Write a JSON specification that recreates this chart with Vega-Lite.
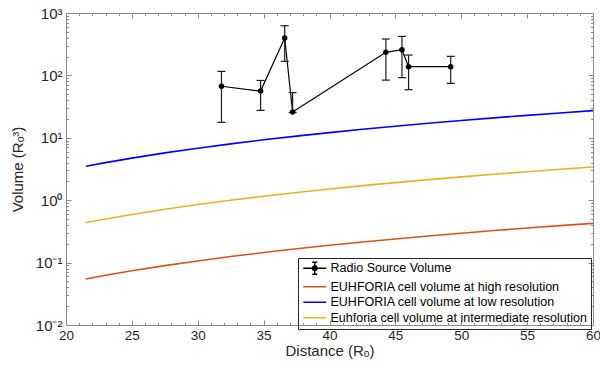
{
  "$schema": "https://vega.github.io/schema/vega-lite/v6.json",
  "autosize": "none",
  "width": 527,
  "height": 312,
  "padding": {"left": 66, "top": 13, "right": 7, "bottom": 44},
  "background": "white",
  "config": {"view": {"stroke": "#8a8a8a", "strokeWidth": 1}},
  "datasets": {
    "curves": [
      {"d": 21.5, "v": 3.5, "series": "EUHFORIA cell volume at low resolution"},
      {"d": 23, "v": 4.006, "series": "EUHFORIA cell volume at low resolution"},
      {"d": 25, "v": 4.73, "series": "EUHFORIA cell volume at low resolution"},
      {"d": 27.5, "v": 5.726, "series": "EUHFORIA cell volume at low resolution"},
      {"d": 30, "v": 6.81, "series": "EUHFORIA cell volume at low resolution"},
      {"d": 32.5, "v": 7.998, "series": "EUHFORIA cell volume at low resolution"},
      {"d": 35, "v": 9.28, "series": "EUHFORIA cell volume at low resolution"},
      {"d": 37.5, "v": 10.648, "series": "EUHFORIA cell volume at low resolution"},
      {"d": 40, "v": 12.11, "series": "EUHFORIA cell volume at low resolution"},
      {"d": 42.5, "v": 13.677, "series": "EUHFORIA cell volume at low resolution"},
      {"d": 45, "v": 15.33, "series": "EUHFORIA cell volume at low resolution"},
      {"d": 47.5, "v": 17.085, "series": "EUHFORIA cell volume at low resolution"},
      {"d": 50, "v": 18.93, "series": "EUHFORIA cell volume at low resolution"},
      {"d": 52.5, "v": 20.87, "series": "EUHFORIA cell volume at low resolution"},
      {"d": 55, "v": 22.9, "series": "EUHFORIA cell volume at low resolution"},
      {"d": 57.5, "v": 25.035, "series": "EUHFORIA cell volume at low resolution"},
      {"d": 60, "v": 27.26, "series": "EUHFORIA cell volume at low resolution"},
      {"d": 21.5, "v": 0.4375, "series": "Euhforia cell volume at intermediate resolution"},
      {"d": 23, "v": 0.5007, "series": "Euhforia cell volume at intermediate resolution"},
      {"d": 25, "v": 0.591, "series": "Euhforia cell volume at intermediate resolution"},
      {"d": 27.5, "v": 0.7158, "series": "Euhforia cell volume at intermediate resolution"},
      {"d": 30, "v": 0.851, "series": "Euhforia cell volume at intermediate resolution"},
      {"d": 32.5, "v": 0.9998, "series": "Euhforia cell volume at intermediate resolution"},
      {"d": 35, "v": 1.16, "series": "Euhforia cell volume at intermediate resolution"},
      {"d": 37.5, "v": 1.331, "series": "Euhforia cell volume at intermediate resolution"},
      {"d": 40, "v": 1.514, "series": "Euhforia cell volume at intermediate resolution"},
      {"d": 42.5, "v": 1.7096, "series": "Euhforia cell volume at intermediate resolution"},
      {"d": 45, "v": 1.916, "series": "Euhforia cell volume at intermediate resolution"},
      {"d": 47.5, "v": 2.1356, "series": "Euhforia cell volume at intermediate resolution"},
      {"d": 50, "v": 2.366, "series": "Euhforia cell volume at intermediate resolution"},
      {"d": 52.5, "v": 2.609, "series": "Euhforia cell volume at intermediate resolution"},
      {"d": 55, "v": 2.863, "series": "Euhforia cell volume at intermediate resolution"},
      {"d": 57.5, "v": 3.129, "series": "Euhforia cell volume at intermediate resolution"},
      {"d": 60, "v": 3.407, "series": "Euhforia cell volume at intermediate resolution"},
      {"d": 21.5, "v": 0.0547, "series": "EUHFORIA cell volume at high resolution"},
      {"d": 23, "v": 0.0626, "series": "EUHFORIA cell volume at high resolution"},
      {"d": 25, "v": 0.0739, "series": "EUHFORIA cell volume at high resolution"},
      {"d": 27.5, "v": 0.0895, "series": "EUHFORIA cell volume at high resolution"},
      {"d": 30, "v": 0.1064, "series": "EUHFORIA cell volume at high resolution"},
      {"d": 32.5, "v": 0.125, "series": "EUHFORIA cell volume at high resolution"},
      {"d": 35, "v": 0.145, "series": "EUHFORIA cell volume at high resolution"},
      {"d": 37.5, "v": 0.1664, "series": "EUHFORIA cell volume at high resolution"},
      {"d": 40, "v": 0.1892, "series": "EUHFORIA cell volume at high resolution"},
      {"d": 42.5, "v": 0.2137, "series": "EUHFORIA cell volume at high resolution"},
      {"d": 45, "v": 0.2395, "series": "EUHFORIA cell volume at high resolution"},
      {"d": 47.5, "v": 0.267, "series": "EUHFORIA cell volume at high resolution"},
      {"d": 50, "v": 0.2958, "series": "EUHFORIA cell volume at high resolution"},
      {"d": 52.5, "v": 0.3261, "series": "EUHFORIA cell volume at high resolution"},
      {"d": 55, "v": 0.3578, "series": "EUHFORIA cell volume at high resolution"},
      {"d": 57.5, "v": 0.3912, "series": "EUHFORIA cell volume at high resolution"},
      {"d": 60, "v": 0.4259, "series": "EUHFORIA cell volume at high resolution"}
    ],
    "radio": [
      {"d": 31.8, "v": 67, "lo": 17.7, "hi": 116, "series": "Radio Source Volume"},
      {"d": 34.77, "v": 56, "lo": 27.5, "hi": 83, "series": "Radio Source Volume"},
      {"d": 36.6, "v": 398, "lo": 168, "hi": 625, "series": "Radio Source Volume"},
      {"d": 37.2, "v": 25.9, "lo": 25.5, "hi": 53, "series": "Radio Source Volume"},
      {"d": 44.28, "v": 234, "lo": 84, "hi": 383, "series": "Radio Source Volume"},
      {"d": 45.5, "v": 258, "lo": 92, "hi": 422, "series": "Radio Source Volume"},
      {"d": 46.0, "v": 138, "lo": 59, "hi": 212, "series": "Radio Source Volume"},
      {"d": 49.2, "v": 138, "lo": 74.5, "hi": 202, "series": "Radio Source Volume"}
    ]
  },
  "resolve": {"axis": {"x": "independent", "y": "independent"}},
  "layer": [
    {
      "data": {"name": "curves"},
      "mark": {"type": "line", "strokeWidth": 1.6, "interpolate": "monotone"},
      "encoding": {
        "x": {
          "field": "d", "type": "quantitative",
          "scale": {"domain": [20, 60], "nice": false, "zero": false},
          "axis": {
            "orient": "bottom",
            "title": "Distance (Rₒ)",
            "values": [20, 25, 30, 35, 40, 45, 50, 55, 60],
            "grid": false,
            "domainColor": "#8a8a8a",
            "tickColor": "#8a8a8a",
            "tickSize": 0,
            "labelFont": "Liberation Sans",
            "labelFontSize": 13.5,
            "labelColor": "#262626",
            "labelPadding": 3,
            "labelFlush": false,
            "titleFont": "Liberation Sans",
            "titleFontSize": 15,
            "titleFontWeight": "normal",
            "titleColor": "#262626",
            "titlePadding": 2
          }
        },
        "y": {
          "field": "v", "type": "quantitative",
          "scale": {"type": "log", "domain": [0.01, 1000], "nice": false},
          "axis": {
            "orient": "left",
            "title": "Volume (Rₒ³)",
            "values": [0.01, 0.1, 1, 10, 100, 1000],
            "labelExpr": "datum.value >= 999 ? '10³' : datum.value >= 99 ? '10²' : datum.value >= 9 ? '10¹' : datum.value >= 0.9 ? '10⁰' : datum.value >= 0.09 ? '10⁻¹' : '10⁻²'",
            "grid": false,
            "domainColor": "#8a8a8a",
            "tickColor": "#8a8a8a",
            "tickSize": 0,
            "labelFont": "Liberation Sans",
            "labelFontSize": 15,
            "labelColor": "#262626",
            "labelPadding": 4,
            "labelFlush": false,
            "titleFont": "Liberation Sans",
            "titleFontSize": 15,
            "titleFontWeight": "normal",
            "titleColor": "#262626",
            "titlePadding": 10
          }
        },
        "color": {
          "field": "series", "type": "nominal",
          "scale": {
            "domain": ["Radio Source Volume", "EUHFORIA cell volume at high resolution", "EUHFORIA cell volume at low resolution", "Euhforia cell volume at intermediate resolution"],
            "range": ["#000000", "#D95319", "#0000FF", "#EDB120"]
          },
          "legend": {
            "orient": "none",
            "legendX": 232,
            "legendY": 245,
            "title": null,
            "padding": 4,
            "strokeColor": "#262626",
            "symbolType": "M-1,0H3.6",
            "symbolSize": 100,
            "symbolStrokeWidth": 1.5,
            "labelFont": "Liberation Sans",
            "labelFontSize": 12.5,
            "labelColor": "#000000",
            "labelOffset": 16,
            "labelLimit": 400,
            "rowPadding": 2.5,
            "cornerRadius": 0,
            "encode": {
              "symbols": {
                "update": {
                  "shape": {"signal": "datum.label === 'Radio Source Volume' ? 'M-1,0H3.6M1.3,-1.2V1.2M0.8,-1.2H1.8M0.8,1.2H1.8M0.85,0A0.45,0.45 0 1,0 1.75,0A0.45,0.45 0 1,0 0.85,0Z' : 'M-1,0H3.6'"},
                  "fill": {"signal": "datum.label === 'Radio Source Volume' ? 'black' : 'transparent'"}
                }
              }
            }
          }
        }
      }
    },
    {
      "data": {"name": "radio"},
      "mark": {"type": "line", "strokeWidth": 1.2},
      "encoding": {
        "x": {
          "field": "d", "type": "quantitative",
          "axis": {"orient": "top", "offset": -312, "title": null, "values": [20, 25, 30, 35, 40, 45, 50, 55, 60], "labels": false, "domain": false, "grid": false, "tickColor": "#8a8a8a", "tickSize": 5}
        },
        "y": {
          "field": "v", "type": "quantitative",
          "axis": {"orient": "right", "offset": -527, "title": null, "values": [0.01, 0.1, 1, 10, 100, 1000], "labels": false, "domain": false, "grid": false, "tickColor": "#8a8a8a", "tickSize": 5}
        },
        "color": {"field": "series", "type": "nominal"}
      }
    },
    {
      "data": {"name": "radio"},
      "mark": {"type": "rule", "color": "#1a1a1a", "strokeWidth": 1.2},
      "encoding": {
        "x": {
          "field": "d", "type": "quantitative",
          "axis": {"orient": "top", "offset": -312, "title": null, "values": [21,22,23,24,26,27,28,29,31,32,33,34,36,37,38,39,41,42,43,44,46,47,48,49,51,52,53,54,56,57,58,59], "labels": false, "domain": false, "grid": false, "tickColor": "#8a8a8a", "tickSize": 2.5}
        },
        "y": {
          "field": "lo", "type": "quantitative",
          "axis": {"orient": "right", "offset": -527, "title": null, "values": [0.02,0.03,0.04,0.05,0.06,0.07,0.08,0.09,0.2,0.3,0.4,0.5,0.6,0.7,0.8,0.9,2,3,4,5,6,7,8,9,20,30,40,50,60,70,80,90,200,300,400,500,600,700,800,900], "labels": false, "domain": false, "grid": false, "tickColor": "#8a8a8a", "tickSize": 2.5}
        },
        "y2": {"field": "hi"}
      }
    },
    {
      "data": {"name": "radio"},
      "mark": {"type": "tick", "orient": "horizontal", "size": 8, "thickness": 1.2, "color": "#1a1a1a", "opacity": 1},
      "encoding": {
        "x": {
          "field": "d", "type": "quantitative",
          "axis": {"orient": "bottom", "offset": -312, "title": null, "values": [20, 25, 30, 35, 40, 45, 50, 55, 60], "labels": false, "domain": false, "grid": false, "tickColor": "#8a8a8a", "tickSize": 5}
        },
        "y": {
          "field": "lo", "type": "quantitative",
          "axis": {"orient": "left", "offset": -527, "title": null, "values": [0.01, 0.1, 1, 10, 100, 1000], "labels": false, "domain": false, "grid": false, "tickColor": "#8a8a8a", "tickSize": 5}
        }
      }
    },
    {
      "data": {"name": "radio"},
      "mark": {"type": "tick", "orient": "horizontal", "size": 8, "thickness": 1.2, "color": "#1a1a1a", "opacity": 1},
      "encoding": {
        "x": {
          "field": "d", "type": "quantitative",
          "axis": {"orient": "bottom", "offset": -312, "title": null, "values": [21,22,23,24,26,27,28,29,31,32,33,34,36,37,38,39,41,42,43,44,46,47,48,49,51,52,53,54,56,57,58,59], "labels": false, "domain": false, "grid": false, "tickColor": "#8a8a8a", "tickSize": 2.5}
        },
        "y": {
          "field": "hi", "type": "quantitative",
          "axis": {"orient": "left", "offset": -527, "title": null, "values": [0.02,0.03,0.04,0.05,0.06,0.07,0.08,0.09,0.2,0.3,0.4,0.5,0.6,0.7,0.8,0.9,2,3,4,5,6,7,8,9,20,30,40,50,60,70,80,90,200,300,400,500,600,700,800,900], "labels": false, "domain": false, "grid": false, "tickColor": "#8a8a8a", "tickSize": 2.5}
        }
      }
    },
    {
      "data": {"name": "radio"},
      "mark": {"type": "point", "filled": true, "size": 30, "color": "black", "opacity": 1},
      "encoding": {
        "x": {"field": "d", "type": "quantitative", "axis": null},
        "y": {"field": "v", "type": "quantitative", "axis": null}
      }
    }
  ]
}
